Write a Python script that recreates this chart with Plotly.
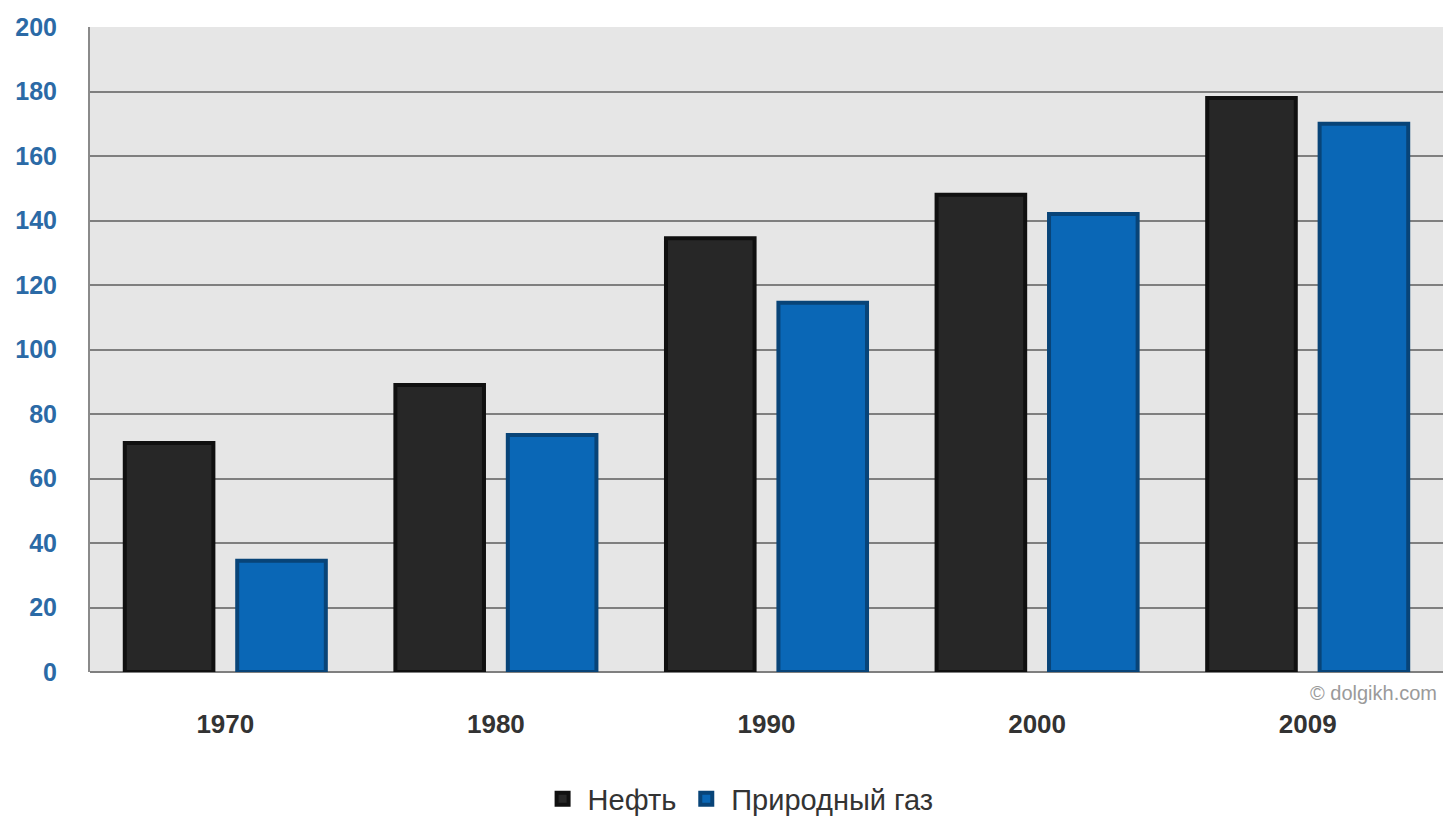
import plotly.graph_objects as go

years = ["1970", "1980", "1990", "2000", "2009"]
oil = [71, 89, 134.5, 148, 178]
gas = [34.5, 73.5, 114.5, 142, 170]
y_ticks = [0, 20, 40, 60, 80, 100, 120, 140, 160, 180, 200]

FONT = "Liberation Sans, Arial"

fig = go.Figure()
fig.add_trace(go.Bar(
    x=years, y=oil, name="Нефть",
    marker=dict(color="#272727", line=dict(color="#101010", width=4)),
))
fig.add_trace(go.Bar(
    x=years, y=gas, name="Природный газ",
    marker=dict(color="#0a67b6", line=dict(color="#084478", width=4)),
))

fig.add_annotation(
    text="© dolgikh.com", xref="paper", yref="paper", x=0.997, y=-0.012,
    xanchor="right", yanchor="top", showarrow=False,
    font=dict(family=FONT, size=20, color="#9a9a9a"),
)

fig.update_layout(
    width=1443, height=821,
    margin=dict(l=90, r=0, t=27, b=149, autoexpand=False),
    paper_bgcolor="white", plot_bgcolor="#e6e6e6",
    barmode="group", bargap=0.169, bargroupgap=0.212,
    showlegend=True,
    legend=dict(orientation="h", x=0.479, xanchor="center",
                yref="container", y=0.027, yanchor="middle",
                font=dict(family=FONT, size=29, color="#333333"),
                traceorder="normal", itemwidth=40),
    xaxis=dict(showgrid=False, tickfont=dict(family=FONT, size=26, color="#333333", weight="bold"),
               ticklabelstandoff=34, showline=False, zeroline=False),
    yaxis=dict(range=[0, 200], tickvals=y_ticks, showgrid=True, gridcolor="#7f7f7f", gridwidth=1.5,
               tickfont=dict(family=FONT, size=25, color="#2b6aa6", weight="bold"),
               ticklabelstandoff=26, showline=True, linecolor="#8a8a8a", linewidth=2,
               zeroline=True, zerolinecolor="#7f7f7f", zerolinewidth=2),
)

fig.write_html("out.html", config={"displayModeBar": False},
               post_script="document.body.style.margin='0';document.body.style.overflow='hidden';")
